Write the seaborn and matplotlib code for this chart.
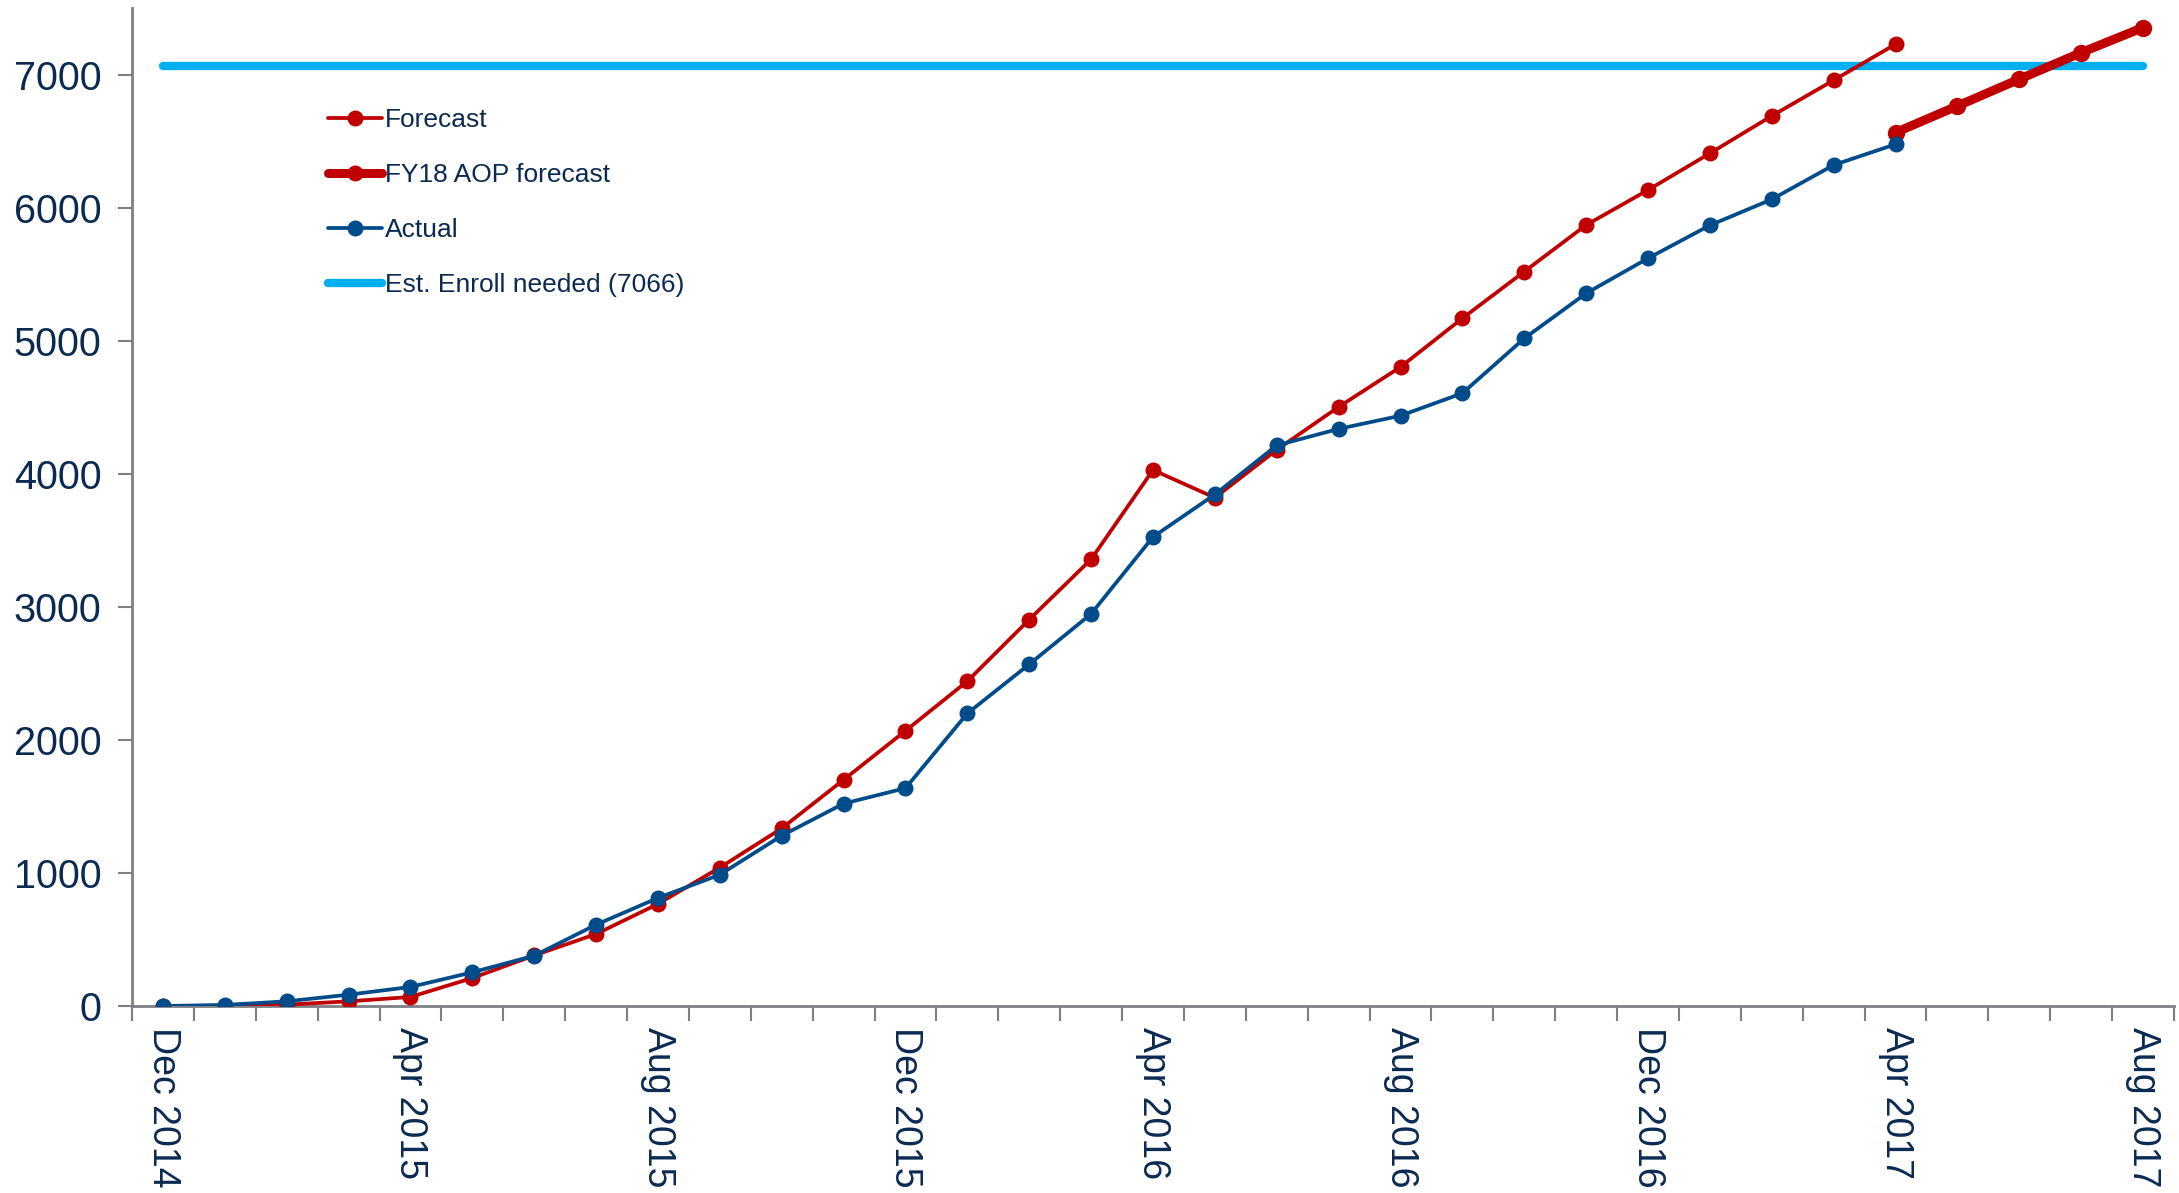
import matplotlib
matplotlib.use("Agg")
import matplotlib.pyplot as plt
from matplotlib.lines import Line2D
import numpy as np
import pandas as pd
import seaborn as sns

# Monthly timeline, Dec 2014 .. Aug 2017
months = ["Dec 2014", "Jan 2015", "Feb 2015", "Mar 2015", "Apr 2015", "May 2015",
          "Jun 2015", "Jul 2015", "Aug 2015", "Sep 2015", "Oct 2015", "Nov 2015",
          "Dec 2015", "Jan 2016", "Feb 2016", "Mar 2016", "Apr 2016", "May 2016",
          "Jun 2016", "Jul 2016", "Aug 2016", "Sep 2016", "Oct 2016", "Nov 2016",
          "Dec 2016", "Jan 2017", "Feb 2017", "Mar 2017", "Apr 2017", "May 2017",
          "Jun 2017", "Jul 2017", "Aug 2017"]

# Cumulative enrollment forecast (Dec 2014 .. Apr 2017)
forecast = [0, 0, 10, 35, 68, 210, 380, 541, 767, 1040, 1335, 1700,
            2068, 2441, 2904, 3357, 4028, 3820, 4180, 4502, 4802, 5168,
            5519, 5869, 6132, 6408, 6689, 6957, 7228]

# Cumulative actual enrollment (Dec 2014 .. Apr 2017)
actual = [0, 8, 35, 85, 143, 253, 378, 611, 812, 987, 1280, 1521,
          1637, 2199, 2568, 2947, 3525, 3844, 4213, 4337, 4436, 4605,
          5017, 5356, 5619, 5867, 6062, 6320, 6476]

# FY18 AOP forecast (Apr 2017 .. Aug 2017)
aop_months = ["Apr 2017", "May 2017", "Jun 2017", "Jul 2017", "Aug 2017"]
aop_forecast = [6564, 6764, 6965, 7165, 7353]

enroll_needed = 7066

tick_labels = ["Dec 2014", "Apr 2015", "Aug 2015", "Dec 2015", "Apr 2016",
               "Aug 2016", "Dec 2016", "Apr 2017", "Aug 2017"]

RED = "#C00000"
BLUE = "#004C8A"
CYAN = "#00B0F0"
TEXT = "#0B2A52"
AXIS = "#7F7F86"

THIN = 2.7
MS = 11.5

sns.set_theme(style="white")
plt.rcParams["font.family"] = ["Liberation Sans", "DejaVu Sans"]

idx = {m: i for i, m in enumerate(months)}
df_fc = pd.DataFrame({"x": [idx[m] for m in months[:len(forecast)]], "y": forecast})
df_ac = pd.DataFrame({"x": [idx[m] for m in months[:len(actual)]], "y": actual})
df_aop = pd.DataFrame({"x": [idx[m] for m in aop_months], "y": aop_forecast})
df_need = pd.DataFrame({"x": [0, len(months) - 1], "y": [enroll_needed] * 2})

fig = plt.figure(figsize=(21.79, 11.93), dpi=100)
ax = fig.add_axes([132 / 2179, 1 - 1006 / 1193, (2174 - 132) / 2179, (1006 - 8) / 1193])

sns.lineplot(data=df_need, x="x", y="y", ax=ax, color=CYAN, linewidth=6,
             solid_capstyle="round", zorder=2)
sns.lineplot(data=df_fc, x="x", y="y", ax=ax, color=RED, linewidth=THIN,
             marker="o", markersize=MS, markeredgewidth=0, zorder=3)
sns.lineplot(data=df_aop, x="x", y="y", ax=ax, color=RED, linewidth=6.5,
             marker="o", markersize=MS + 1, markeredgewidth=0, zorder=3)
sns.lineplot(data=df_ac, x="x", y="y", ax=ax, color=BLUE, linewidth=THIN,
             marker="o", markersize=MS, markeredgewidth=0, zorder=4)

ax.set_xlim(-0.5, len(months) - 0.5)
ax.set_ylim(0, 7500)
ax.set_xlabel("")
ax.set_ylabel("")

# Month boundaries as ticks, labels every four months
ax.set_xticks(np.arange(-0.5, len(months), 1.0))
ax.set_xticklabels([])
ax.set_xticks([idx[m] for m in tick_labels], minor=True)
ax.set_xticklabels(tick_labels, minor=True, rotation=270, fontsize=27,
                   color=TEXT, va="top", ha="center")
ax.tick_params(axis="x", which="major", direction="out", length=11, width=1.5,
               color=AXIS, bottom=True)
ax.tick_params(axis="x", which="minor", length=0, pad=15)

ax.set_yticks(range(0, 7001, 1000))
ax.set_yticklabels([str(v) for v in range(0, 7001, 1000)], fontsize=28.5, color=TEXT)
ax.tick_params(axis="y", direction="out", length=10, width=1.5, color=AXIS,
               left=True, pad=12)

for side in ["top", "right"]:
    ax.spines[side].set_visible(False)
for side in ["left", "bottom"]:
    ax.spines[side].set_color(AXIS)
    ax.spines[side].set_linewidth(2)

handles = [
    Line2D([], [], color=RED, linewidth=THIN, marker="o", markersize=MS, markeredgewidth=0),
    Line2D([], [], color=RED, linewidth=6.5, marker="o", markersize=MS, markeredgewidth=0),
    Line2D([], [], color=BLUE, linewidth=THIN, marker="o", markersize=MS, markeredgewidth=0),
    Line2D([], [], color=CYAN, linewidth=6, solid_capstyle="round"),
]
labels = ["Forecast", "FY18 AOP forecast", "Actual", "Est. Enroll needed (7066)"]
leg = fig.legend(handles, labels, loc="upper left",
                 bbox_to_anchor=(328 / 2179, 1 - 108 / 1193),
                 frameon=False, fontsize=19, handlelength=2.05, handletextpad=0.12,
                 labelspacing=1.18, borderpad=0, borderaxespad=0)
for t in leg.get_texts():
    t.set_color(TEXT)

fig.savefig("out.png", dpi=100)
